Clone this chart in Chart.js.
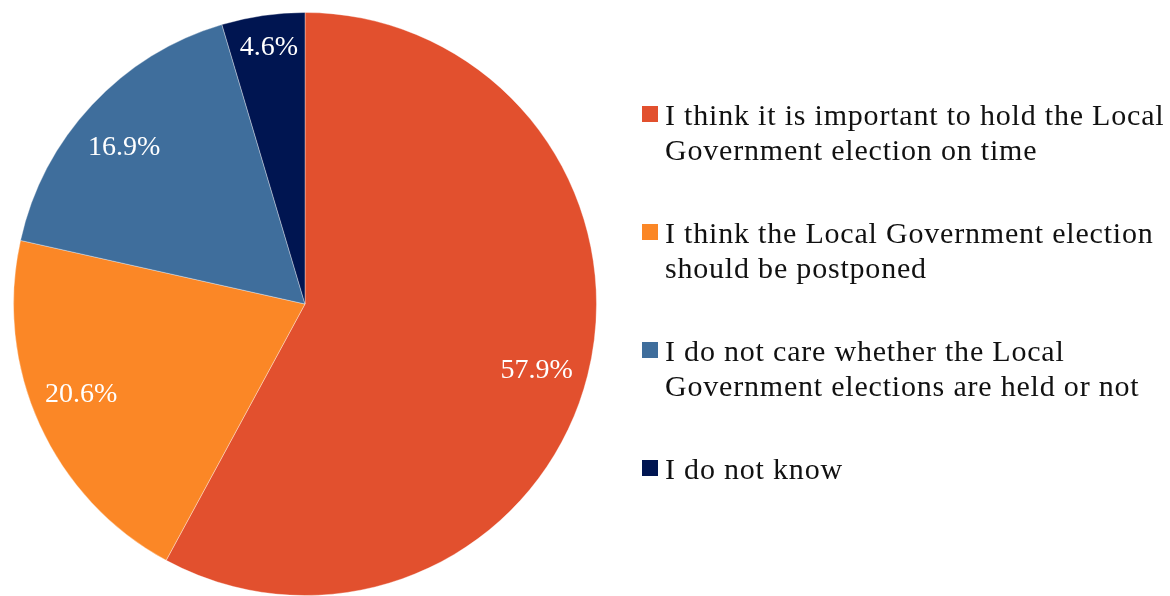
<!DOCTYPE html>
<html>
<head>
<meta charset="utf-8">
<script src="https://cdn.jsdelivr.net/npm/chart.js@4/dist/chart.umd.min.js"></script>
<style>
  html, body { margin: 0; padding: 0; background: #fff; }
  #wrap { position: relative; width: 1170px; height: 596px; overflow: hidden; }
  #pie { position: absolute; left: 0; top: 0; }
  #legend {
    position: absolute; left: 642px; top: 97px; width: 528px;
    font-family: "Liberation Serif", "Times New Roman", serif;
    font-size: 30px; line-height: 35px; letter-spacing: 0.8px; color: #111;
  }
  .item { display: flex; align-items: flex-start; margin-bottom: 48px; }
  .swatch { flex: none; width: 16px; height: 16px; margin-top: 9px; margin-right: 7px; }
  .txt { width: 505px; }
</style>
</head>
<body>
<div id="wrap">
  <canvas id="pie" width="1170" height="596"></canvas>
  <div id="legend"></div>
</div>
<script>
(function () {
  "use strict";

  const categories = [
    "I think it is important to hold the Local Government election on time",
    "I think the Local Government election should be postponed",
    "I do not care whether the Local Government elections are held or not",
    "I do not know"
  ];
  const values = [57.9, 20.6, 16.9, 4.6];

  const COLORS = ["#e2502e", "#fb8726", "#3f6e9c", "#001551"];
  const SERIF = '"Liberation Serif", "Times New Roman", serif';

  // percentage text placed near each slice's mid angle (radius fraction, angle nudge in degrees)
  const sliceLabels = {
    id: "sliceLabels",
    afterDatasetsDraw(chart, args, opts) {
      const ctx = chart.ctx;
      const meta = chart.getDatasetMeta(0);
      ctx.save();
      ctx.font = "28px " + SERIF;
      ctx.fillStyle = "#ffffff";
      ctx.textAlign = "center";
      ctx.textBaseline = "middle";
      meta.data.forEach((arc, i) => {
        const p = arc.getProps(["x", "y", "startAngle", "endAngle", "outerRadius"], true);
        const mid = (p.startAngle + p.endAngle) / 2 + opts.nudge[i] * Math.PI / 180;
        const r = p.outerRadius * opts.radial[i];
        const text = values[i].toFixed(1) + "%";
        ctx.fillText(text, p.x + Math.cos(mid) * r, p.y + Math.sin(mid) * r);
      });
      ctx.restore();
    }
  };

  new Chart(document.getElementById("pie"), {
    type: "pie",
    data: {
      labels: categories,
      datasets: [{
        data: values,
        backgroundColor: COLORS,
        borderColor: "rgba(255,255,255,0.35)",
        borderWidth: 1
      }]
    },
    options: {
      responsive: false,
      animation: false,
      layout: { padding: { left: 13, right: 573, top: 12, bottom: 0 } },
      plugins: {
        legend: { display: false },
        tooltip: { enabled: false },
        sliceLabels: {
          radial: [0.827, 0.829, 0.821, 0.889],
          nudge: [1.9, 2.4, -2.1, 0.3]
        }
      }
    },
    plugins: [sliceLabels]
  });

  const legend = document.getElementById("legend");
  categories.forEach((name, i) => {
    const item = document.createElement("div");
    item.className = "item";
    const sw = document.createElement("span");
    sw.className = "swatch";
    sw.style.background = COLORS[i];
    const txt = document.createElement("span");
    txt.className = "txt";
    txt.textContent = name;
    item.appendChild(sw);
    item.appendChild(txt);
    legend.appendChild(item);
  });
})();
</script>
</body>
</html>
